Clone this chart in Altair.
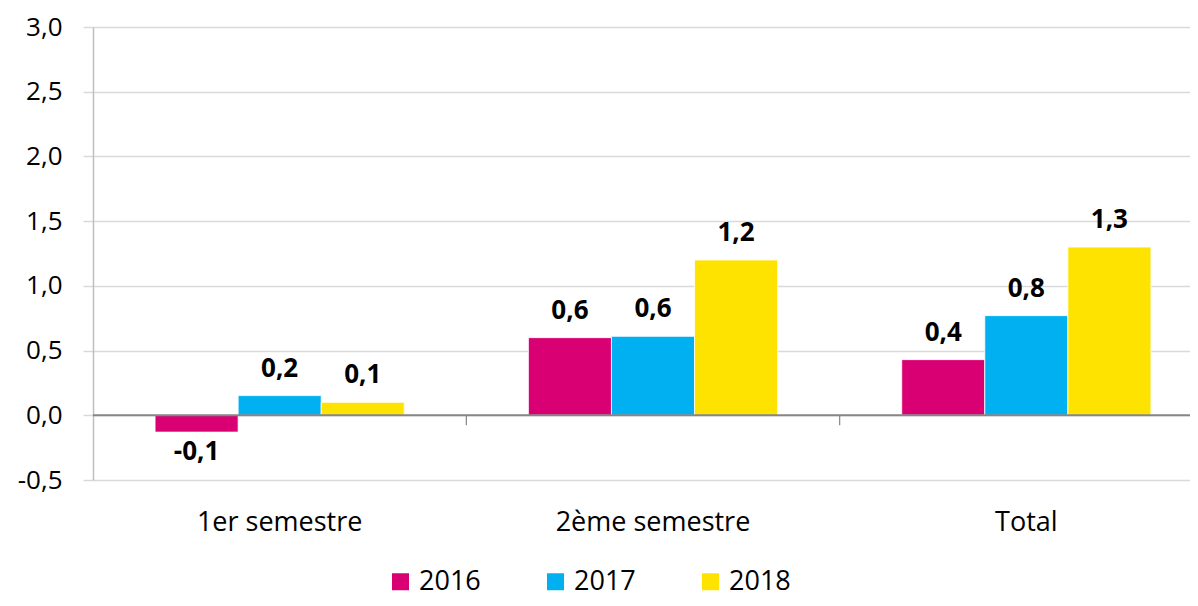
import altair as alt
import pandas as pd

categories = ["1er semestre", "2ème semestre", "Total"]
years = ["2016", "2017", "2018"]
values_2016 = [-0.13, 0.60, 0.43]
values_2017 = [0.152, 0.61, 0.77]
values_2018 = [0.10, 1.20, 1.30]
colors = ["#D80073", "#00B0F0", "#FFE300"]
y_ticks = [-0.5, 0.0, 0.5, 1.0, 1.5, 2.0, 2.5, 3.0]

rows = []
for yr, vals in zip(years, [values_2016, values_2017, values_2018]):
    for c, v in zip(categories, vals):
        rows.append({"cat": c, "year": yr, "value": v,
                     "label": f"{v:.1f}".replace(".", ",")})
df = pd.DataFrame(rows)

FONT = "Open Sans"

x_enc = alt.X("cat:N", sort=categories, title=None,
              scale=alt.Scale(range=[0, 1120], paddingInner=0, paddingOuter=0),
              axis=alt.Axis(domain=False, ticks=False, grid=False, labelAngle=0,
                            labelFontSize=27, labelColor="#000000", labelPadding=29,
                            labelLimit=0, labelFont=FONT))
xoff = alt.XOffset("year:N", sort=years,
                   scale=alt.Scale(paddingInner=0, paddingOuter=0.747))
y_enc = alt.Y("value:Q", title=None,
              scale=alt.Scale(domain=[-0.5, 3.0], nice=False, zero=False),
              axis=alt.Axis(values=y_ticks, grid=True, gridColor="#D9D9D9", gridWidth=1.5,
                            domainColor="#BFBFBF", domainWidth=1.5,
                            tickColor="#D9D9D9", tickWidth=1.5, tickSize=10,
                            labelPadding=21, labelFontSize=26, labelColor="#000000",
                            labelFont=FONT,
                            labelExpr="replace(replace(format(datum.value, '.1f'), '.', ','), '\u2212', '-')"))

base = alt.Chart(df)

bars = base.mark_bar(stroke="white", strokeWidth=0.8).encode(
    x=x_enc, xOffset=xoff, y=y_enc,
    color=alt.Color("year:N", sort=years,
                    scale=alt.Scale(domain=years, range=colors),
                    legend=alt.Legend(title=None, orient="none", direction="horizontal",
                                      legendX=294, legendY=541,
                                      symbolType="square", symbolSize=289,
                                      symbolStrokeWidth=0, labelFontSize=27,
                                      labelFont=FONT, labelColor="#000000",
                                      labelOffset=5, columnPadding=61)),
)

pos_text = base.transform_filter("datum.value >= 0").mark_text(
    fontSize=26, fontWeight="bold", font=FONT, baseline="bottom", dy=-14, color="#000000"
).encode(x=alt.X("cat:N", sort=categories), xOffset=xoff, y="value:Q", text="label:N")

neg_text = base.transform_filter("datum.value < 0").mark_text(
    fontSize=26, fontWeight="bold", font=FONT, baseline="top", dy=7, color="#000000"
).encode(x=alt.X("cat:N", sort=categories), xOffset=xoff, y="value:Q", text="label:N")

zero_rule = alt.Chart(pd.DataFrame({"z": [0]})).mark_rule(
    color="#868686", strokeWidth=2
).encode(y=alt.Y("z:Q"))

tick_df = pd.DataFrame({"cat": categories[1:]})
tick_rules = alt.Chart(tick_df).mark_rule(color="#868686", strokeWidth=1.2).encode(
    x=alt.X("cat:N", sort=categories, bandPosition=0),
    y=alt.datum(0), y2=alt.datum(-0.077),
)

chart = alt.layer(bars, zero_rule, tick_rules, pos_text, neg_text).properties(
    width=1097, height=453,
    autosize=alt.AutoSizeParams(type="none"),
    padding={"left": 85, "top": 19, "right": 0, "bottom": 118},
).configure(font=FONT, view=alt.ViewConfig(stroke=None))

chart.save("out.html", embed_options={"renderer": "svg", "actions": False})
